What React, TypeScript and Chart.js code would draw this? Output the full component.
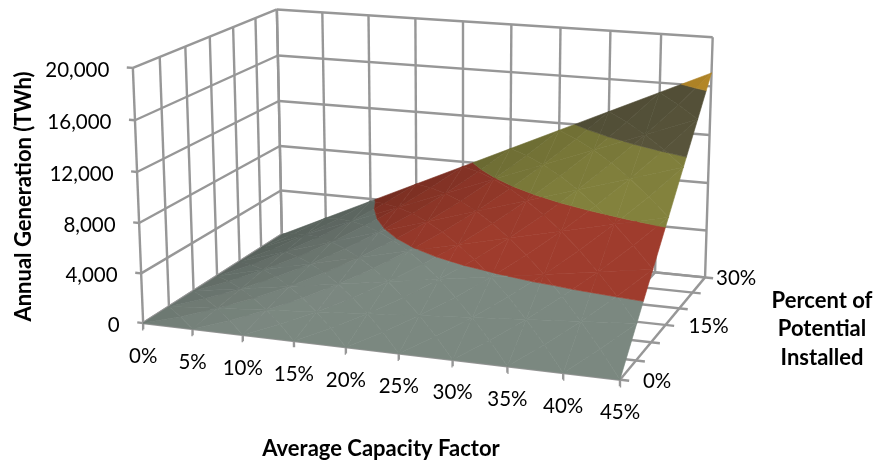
import React, { useEffect, useRef } from "react";
import { Chart, registerables } from "chart.js";

Chart.register(...registerables);

// Axis categories
const capacityFactors = [0, 5, 10, 15, 20, 25, 30, 35, 40, 45];
const potentialInstalled = [0, 5, 10, 15, 20, 25, 30];
const generationTicks = [0, 4000, 8000, 12000, 16000, 20000];

// Tick labels
const capacityLabels = ["0%", "5%", "10%", "15%", "20%", "25%", "30%", "35%", "40%", "45%"];
const generationLabels = ["0", "4,000", "8,000", "12,000", "16,000", "20,000"];
const potentialLabels = ["0%", "15%", "30%"];
const potentialLabelValues = [0, 15, 30];

// Annual generation (TWh), one row per percent-installed level
const genAt0 = [0, 0, 0, 0, 0, 0, 0, 0, 0, 0];
const genAt5 = [0, 317, 633, 950, 1267, 1583, 1900, 2217, 2533, 2850];
const genAt10 = [0, 633, 1267, 1900, 2533, 3167, 3800, 4433, 5067, 5700];
const genAt15 = [0, 950, 1900, 2850, 3800, 4750, 5700, 6650, 7600, 8550];
const genAt20 = [0, 1267, 2533, 3800, 5067, 6333, 7600, 8867, 10133, 11400];
const genAt25 = [0, 1583, 3167, 4750, 6333, 7917, 9500, 11083, 12667, 14250];
const genAt30 = [0, 1900, 3800, 5700, 7600, 9500, 11400, 13300, 15200, 17100];
const generationRows = [genAt0, genAt5, genAt10, genAt15, genAt20, genAt25, genAt30];

// Colour of each 4,000 TWh band of the surface
const bandColors: [number, number, number][] = [
  [116, 128, 121],
  [150, 57, 42],
  [124, 123, 58],
  [87, 83, 58],
  [184, 138, 40],
];

const GRID = "#979797";
const WIDTH = 879;
const HEIGHT = 463;
const CF_MAX = 45;
const POT_MAX = 30;
const Z_MAX = 20000;
const FONT = "Lato, sans-serif";

type P3 = [number, number, number];

// Camera calibration: where the corners of the plot box sit on the canvas
const cameraAnchors: [P3, [number, number]][] = [
  [[0, 0, 0], [143, 322.7]],
  [[45, 0, 0], [620, 380]],
  [[45, 30, 0], [705, 277]],
  [[0, 30, 0], [282, 235]],
  [[0, 0, 20000], [133, 68]],
  [[0, 30, 20000], [276.7, 9.3]],
  [[45, 30, 20000], [712.7, 37.3]],
];

function solveCamera(): number[] {
  const rows: number[][] = [];
  const rhs: number[] = [];
  for (const [[cf, pot, z], [u, v]] of cameraAnchors) {
    const X = cf / CF_MAX, Y = pot / POT_MAX, Z = z / Z_MAX;
    rows.push([X, Y, Z, 1, 0, 0, 0, 0, -u * X, -u * Y, -u * Z]);
    rhs.push(u);
    rows.push([0, 0, 0, 0, X, Y, Z, 1, -v * X, -v * Y, -v * Z]);
    rhs.push(v);
  }
  const n = 11;
  const m: number[][] = [];
  for (let i = 0; i < n; i++) {
    const row = new Array(n + 1).fill(0);
    rows.forEach((r, k) => {
      for (let j = 0; j < n; j++) row[j] += r[i] * r[j];
      row[n] += r[i] * rhs[k];
    });
    m.push(row);
  }
  for (let i = 0; i < n; i++) {
    let best = i;
    for (let k = i + 1; k < n; k++) if (Math.abs(m[k][i]) > Math.abs(m[best][i])) best = k;
    [m[i], m[best]] = [m[best], m[i]];
    for (let k = 0; k < n; k++) {
      if (k === i) continue;
      const f = m[k][i] / m[i][i];
      for (let j = i; j <= n; j++) m[k][j] -= f * m[i][j];
    }
  }
  return m.map((row, i) => row[n] / m[i][i]);
}

const cam = solveCamera();

function project(cf: number, pot: number, z: number) {
  const X = cf / CF_MAX, Y = pot / POT_MAX, Z = z / Z_MAX;
  const w = cam[8] * X + cam[9] * Y + cam[10] * Z + 1;
  return {
    x: (cam[0] * X + cam[1] * Y + cam[2] * Z + cam[3]) / w,
    y: (cam[4] * X + cam[5] * Y + cam[6] * Z + cam[7]) / w,
  };
}

// Keeps the part of a triangle lying on one side of a generation level
function clipLevel(poly: P3[], level: number, keepAbove: boolean): P3[] {
  const out: P3[] = [];
  for (let i = 0; i < poly.length; i++) {
    const a = poly[i];
    const b = poly[(i + 1) % poly.length];
    const ain = keepAbove ? a[2] >= level : a[2] <= level;
    const bin = keepAbove ? b[2] >= level : b[2] <= level;
    if (ain) out.push(a);
    if (ain !== bin) {
      const t = (level - a[2]) / (b[2] - a[2]);
      out.push([a[0] + (b[0] - a[0]) * t, a[1] + (b[1] - a[1]) * t, level]);
    }
  }
  return out;
}

// Lambert-style brightness of a facet seen in box proportions
function facetShade(a: P3, b: P3, c: P3): number {
  const s = (p: P3) => [(p[0] / CF_MAX) * 1.6, p[1] / POT_MAX, p[2] / Z_MAX];
  const [pa, pb, pc] = [s(a), s(b), s(c)];
  const u = [pb[0] - pa[0], pb[1] - pa[1], pb[2] - pa[2]];
  const v = [pc[0] - pa[0], pc[1] - pa[1], pc[2] - pa[2]];
  let n = [u[1] * v[2] - u[2] * v[1], u[2] * v[0] - u[0] * v[2], u[0] * v[1] - u[1] * v[0]];
  const len = Math.hypot(n[0], n[1], n[2]) || 1;
  n = n.map((q) => q / len);
  if (n[2] < 0) n = n.map((q) => -q);
  const light = [0.3, -0.55, 0.78];
  const dot = n[0] * light[0] + n[1] * light[1] + n[2] * light[2];
  return Math.min(1.06, Math.max(0.77, 0.96 + 1.3 * (dot - 0.78)));
}

function surfaceDatasets() {
  const sets: any[] = [];
  for (let j = potentialInstalled.length - 2; j >= 0; j--) {
    for (let i = 0; i < capacityFactors.length - 1; i++) {
      const c00: P3 = [capacityFactors[i], potentialInstalled[j], generationRows[j][i]];
      const c10: P3 = [capacityFactors[i + 1], potentialInstalled[j], generationRows[j][i + 1]];
      const c11: P3 = [capacityFactors[i + 1], potentialInstalled[j + 1], generationRows[j + 1][i + 1]];
      const c01: P3 = [capacityFactors[i], potentialInstalled[j + 1], generationRows[j + 1][i]];
      const mid: P3 = [
        (c00[0] + c10[0]) / 2,
        (c00[1] + c01[1]) / 2,
        (c00[2] + c10[2] + c11[2] + c01[2]) / 4,
      ];
      const facets: P3[][] = [[c00, c10, mid], [c10, c11, mid], [c11, c01, mid], [c01, c00, mid]];
      for (const tri of facets) {
        const shade = facetShade(tri[0], tri[1], tri[2]);
        for (let b = 0; b < bandColors.length; b++) {
          const poly = clipLevel(clipLevel(tri, generationTicks[b], true), generationTicks[b + 1] ?? Z_MAX, false);
          if (poly.length < 3) continue;
          const [r, g, bl] = bandColors[b].map((q) => Math.round(q * shade));
          const color = `rgb(${r},${g},${bl})`;
          const pts = poly.map((p) => project(p[0], p[1], p[2]));
          sets.push({
            data: [...pts, pts[0]],
            showLine: true,
            fill: "shape",
            backgroundColor: color,
            borderColor: color,
            borderWidth: 0.6,
            pointRadius: 0,
            tension: 0,
            clip: false,
          });
        }
      }
    }
  }
  // Nearer facets are listed first so they paint last
  return sets.reverse();
}

function gridLine(a: P3, b: P3) {
  return {
    data: [project(a[0], a[1], a[2]), project(b[0], b[1], b[2])],
    showLine: true,
    fill: false,
    borderColor: GRID,
    borderWidth: 2.4,
    pointRadius: 0,
    clip: false,
  };
}

function gridDatasets() {
  const sets: any[] = [];
  for (const z of generationTicks) {
    sets.push(gridLine([0, POT_MAX, z], [CF_MAX, POT_MAX, z]));
    sets.push(gridLine([-0.6, 0, z], [0, 0, z]));
    sets.push(gridLine([0, 0, z], [0, POT_MAX, z]));
  }
  for (const cf of capacityFactors) {
    sets.push(gridLine([cf, POT_MAX, 0], [cf, POT_MAX, Z_MAX]));
    sets.push(gridLine([cf, 0, -500], [cf, 0, 0]));
    sets.push(gridLine([cf, 0, 0], [cf, POT_MAX, 0]));
  }
  for (const pot of potentialInstalled) {
    sets.push(gridLine([0, pot, 0], [0, pot, Z_MAX]));
    sets.push(gridLine([0, pot, 0], [CF_MAX + 0.8, pot, 0]));
  }
  return sets;
}

const potLabelGapX = [23, 23, 11];

const axisText = {
  id: "axisText",
  afterDatasetsDraw(chart: any) {
    const { ctx, scales } = chart;
    const px = (p: { x: number; y: number }) => ({
      x: scales.x.getPixelForValue(p.x),
      y: scales.y.getPixelForValue(p.y),
    });
    ctx.save();
    ctx.fillStyle = "#000";
    ctx.textBaseline = "middle";
    ctx.font = `20.5px ${FONT}`;
    ctx.textAlign = "right";
    generationTicks.forEach((z, i) => {
      const p = px(project(0, 0, z));
      ctx.fillText(generationLabels[i], p.x - 23.5, p.y + 2);
    });
    ctx.textAlign = "center";
    capacityFactors.forEach((cf, i) => {
      const p = px(project(cf, 0, 0));
      ctx.fillText(capacityLabels[i], p.x, p.y + 33);
    });
    ctx.textAlign = "left";
    potentialLabelValues.forEach((pot, i) => {
      const p = px(project(CF_MAX, pot, 0));
      ctx.fillText(potentialLabels[i], p.x + potLabelGapX[i], p.y + 1.5);
    });
    ctx.font = `bold 22px ${FONT}`;
    ctx.textAlign = "center";
    ctx.fillText("Average Capacity Factor", 381, 449);
    ctx.fillText("Percent of", 822, 301);
    ctx.fillText("Potential", 822, 329);
    ctx.fillText("Installed", 822, 358);
    ctx.translate(24, 196.5);
    ctx.rotate(-Math.PI / 2);
    ctx.fillText("Annual Generation (TWh)", 0, 0);
    ctx.restore();
  },
};

export default function App() {
  const ref = useRef<HTMLCanvasElement>(null);
  useEffect(() => {
    if (!ref.current) return;
    const chart = new Chart(ref.current, {
      type: "scatter",
      data: { datasets: [...surfaceDatasets(), ...gridDatasets()] },
      options: {
        animation: false,
        responsive: false,
        layout: { padding: 0 },
        plugins: { legend: { display: false }, tooltip: { enabled: false } },
        scales: {
          x: { type: "linear", min: 0, max: WIDTH, display: false },
          y: { type: "linear", min: 0, max: HEIGHT, reverse: true, display: false },
        },
      },
      plugins: [axisText],
    });
    return () => chart.destroy();
  }, []);
  return (
    <div style={{ position: "absolute", left: 0, top: 0, width: WIDTH, height: HEIGHT, background: "#fff" }}>
      <canvas ref={ref} width={WIDTH} height={HEIGHT} style={{ display: "block" }} />
    </div>
  );
}
